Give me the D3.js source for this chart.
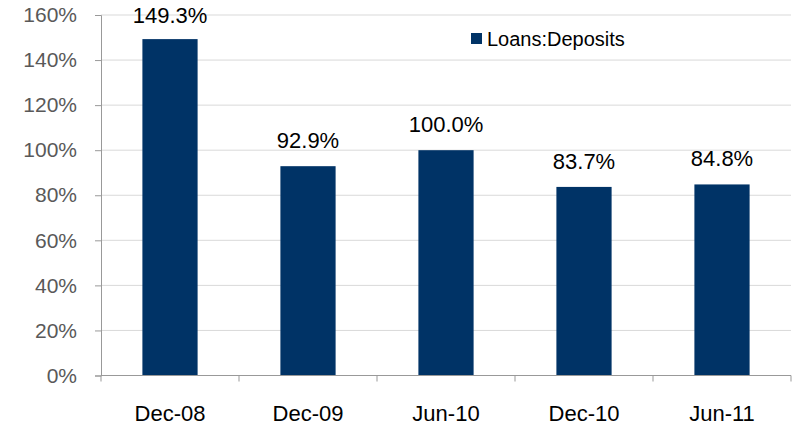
<!doctype html>
<html>
<head>
    <meta charset="utf-8">
    <title>Loans:Deposits</title>
    <style>
        body { margin: 0; background: #fff; }
        svg { font-family: "Liberation Sans", Arial, sans-serif; }
        .bar { fill: #003366; }
    </style>
    <script src="https://cdn.jsdelivr.net/npm/d3@7"></script>
</head>
<body>
    <svg width="800" height="428"></svg>
    <script>
        var categories = ["Dec-08", "Dec-09", "Jun-10", "Dec-10", "Jun-11"];
        var ratios = [149.3, 92.9, 100.0, 83.7, 84.8];
        var yTicks = [0, 20, 40, 60, 80, 100, 120, 140, 160];
        var seriesName = "Loans:Deposits";

        var data = categories.map(function (c, i) {
            return { label: c, value: ratios[i] };
        });

        var svg = d3.select("svg");
        var plotLeft = 101, plotRight = 791, plotTop = 15, plotBottom = 375.5;

        var x = d3.scaleBand().domain(categories).range([plotLeft, plotRight]);
        var y = d3.scaleLinear().domain([0, 160]).range([plotBottom, plotTop]);

        // gridlines
        svg.append("g")
            .selectAll("line")
            .data(yTicks.filter(function (d) { return d > 0; }))
            .enter().append("line")
            .attr("x1", plotLeft).attr("x2", plotRight)
            .attr("y1", function (d) { return y(d); })
            .attr("y2", function (d) { return y(d); })
            .attr("stroke", "#d9d9d9")
            .attr("stroke-width", 1);

        // y axis
        var yAxis = svg.append("g")
            .attr("transform", "translate(" + plotLeft + ",0)")
            .call(d3.axisLeft(y).tickValues(yTicks).tickSize(6).tickPadding(18)
                .tickFormat(function (d) { return d + "%"; }));
        yAxis.select(".domain").attr("stroke", "#999");
        yAxis.selectAll(".tick line").attr("stroke", "#999");
        yAxis.selectAll(".tick text")
            .attr("fill", "#595959")
            .style("font-size", "21px");

        // bars
        var barW = x.bandwidth() * 0.4;
        svg.selectAll(".bar")
            .data(data)
            .enter().append("rect")
            .attr("class", "bar")
            .attr("x", function (d) { return x(d.label) + (x.bandwidth() - barW) / 2; })
            .attr("y", function (d) { return y(d.value); })
            .attr("width", barW)
            .attr("height", function (d) { return plotBottom - y(d.value); });

        // value labels (kept inside the top edge)
        svg.selectAll(".val")
            .data(data)
            .enter().append("text")
            .attr("class", "val")
            .attr("x", function (d) { return x(d.label) + x.bandwidth() / 2; })
            .attr("y", function (d) { return Math.max(23, y(d.value) - 18); })
            .attr("text-anchor", "middle")
            .style("font-size", "22px")
            .attr("fill", "#000")
            .text(function (d) { return d.value.toFixed(1) + "%"; });

        // x axis
        var xg = svg.append("g");
        xg.append("line")
            .attr("x1", plotLeft).attr("x2", plotRight)
            .attr("y1", plotBottom).attr("y2", plotBottom)
            .attr("stroke", "#999");
        var bounds = categories.map(function (c) { return x(c); }).concat([plotRight]);
        xg.selectAll(".xt")
            .data(bounds)
            .enter().append("line")
            .attr("x1", function (d) { return d; })
            .attr("x2", function (d) { return d; })
            .attr("y1", plotBottom).attr("y2", plotBottom + 6)
            .attr("stroke", "#999");
        xg.selectAll(".xl")
            .data(categories)
            .enter().append("text")
            .attr("x", function (d) { return x(d) + x.bandwidth() / 2; })
            .attr("y", 421)
            .attr("text-anchor", "middle")
            .style("font-size", "22px")
            .attr("fill", "#000")
            .text(function (d) { return d; });

        // legend
        svg.append("rect")
            .attr("x", 471).attr("y", 33)
            .attr("width", 11).attr("height", 11)
            .attr("class", "bar");
        svg.append("text")
            .attr("x", 487).attr("y", 46)
            .style("font-size", "20px")
            .attr("fill", "#000")
            .text(seriesName);
    </script>
</body>
</html>
